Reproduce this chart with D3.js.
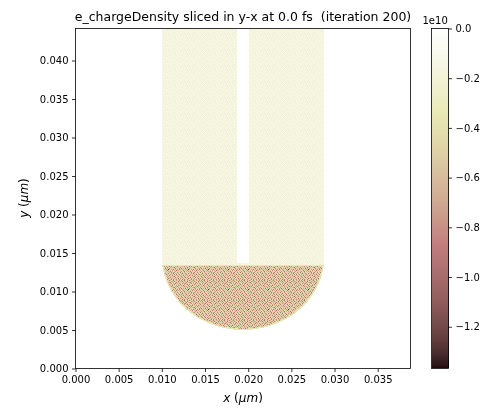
<!DOCTYPE html>
<html><head><meta charset="utf-8">
<script src="https://cdn.jsdelivr.net/npm/d3@7"></script>
<style>
html,body{margin:0;padding:0;background:#fff;overflow:hidden}
#wrap{position:relative;width:497px;height:410px}
canvas,svg{position:absolute;left:0;top:0}
text{font-family:"DejaVu Sans",sans-serif;fill:#000}
</style></head><body><div id="wrap"><canvas id="c" width="497" height="410"></canvas><svg id="s" width="497" height="410"></svg></div>
<script>
const chartTitle = "e_chargeDensity sliced in y-x at 0.0 fs  (iteration 200)";
const xDomain = [0, 0.0388];
const yDomain = [0, 0.04416];
const xTicks = [0, 0.005, 0.01, 0.015, 0.02, 0.025, 0.03, 0.035];
const yTicks = [0, 0.005, 0.01, 0.015, 0.02, 0.025, 0.03, 0.035, 0.04];
const colorDomain = [-1.368, 0];
const colorTicks = [0, -0.2, -0.4, -0.6, -0.8, -1.0, -1.2];
// Extents (micrometres).
const bunchXRange = [0.0100, 0.0288];
const slitXRange = [0.01875, 0.02015];
const slitBottom = 0.0137;
const interfaceY = 0.0135;
const discCentre = [0.0194, 0.0144];
const discRadius = 0.0094;
// Per-cell noise cannot be read one by one: these are estimated samples (hundredths of
// 1e10, magnitude) of the speckle seen in zoomed patches, repeated as a plain tile.
const lowerTile = [
[44,82,46,60,98,43,47,71,45,88,62,42,55,93,48,41,76,58,44,84],
[75,49,91,43,58,70,42,96,53,47,41,80,66,45,87,60,42,50,99,46],
[42,63,45,78,41,52,86,44,60,74,94,46,43,72,40,54,90,47,68,43],
[57,41,85,48,67,95,46,58,42,49,56,83,41,62,47,100,44,73,41,81],
[89,44,52,42,79,40,61,92,43,77,45,40,69,46,85,42,57,43,52,48],
[47,72,40,97,45,54,43,48,82,41,64,51,95,42,59,44,78,40,88,62],
[41,59,68,44,87,42,75,41,56,99,43,86,44,50,41,71,47,92,45,54],
[83,46,43,55,48,63,45,90,47,40,70,42,58,76,96,43,61,42,66,41],
[50,94,41,73,42,101,41,65,44,84,48,53,41,45,52,88,40,55,46,79],
[43,56,77,45,60,46,81,42,128,57,41,74,47,91,43,64,49,83,42,93],
[67,42,48,86,41,52,44,98,46,43,62,40,85,44,69,41,97,43,72,44],
[45,80,44,51,93,43,69,40,75,54,89,47,56,42,49,78,46,58,41,60],
[95,41,61,42,74,47,41,55,42,66,44,96,41,67,82,45,42,86,50,47],
[46,53,99,47,40,84,58,43,87,45,48,72,43,100,40,55,63,41,75,42],
[41,76,42,64,49,44,92,46,51,41,79,42,60,46,84,43,94,48,44,90],
[70,45,57,88,43,68,41,74,40,95,46,54,87,41,48,65,41,77,56,43],
[48,90,43,41,83,46,53,45,71,42,59,44,42,73,97,44,52,40,85,47],
[42,60,81,46,56,97,42,80,47,49,88,41,65,48,40,91,47,69,42,58],
[86,44,49,70,41,43,64,41,93,61,43,78,46,52,76,42,59,44,98,41],
[52,41,96,44,89,50,47,85,43,44,55,92,40,83,46,57,81,45,62,74]
];
const upperTile = [
[18,10,22,13,26,8,19,15,24,10,21,9,17,27,12,22,14,8,23,11],
[11,24,9,20,14,22,10,26,13,18,7,23,14,10,25,15,19,22,10,18],
[22,14,17,8,25,12,16,9,21,28,14,11,20,18,8,26,10,13,24,9],
[9,26,12,23,10,18,29,14,10,16,22,8,26,13,19,10,22,17,7,21],
[19,10,15,21,11,7,22,18,25,9,12,18,10,24,14,20,9,27,15,14],
[13,22,8,27,16,24,10,12,8,22,26,15,21,9,11,23,18,10,22,10],
[25,10,18,10,20,14,17,26,19,11,10,24,7,16,28,13,8,21,12,17],
[8,16,28,14,9,22,11,8,23,14,18,13,22,11,10,18,25,14,9,26],
[20,12,10,22,18,10,26,21,10,6,25,9,19,26,15,8,20,10,18,14],
[10,23,14,7,24,19,9,15,27,18,12,22,10,14,21,24,11,23,13,8],
[24,9,21,17,11,13,22,10,14,9,20,16,28,8,10,18,10,16,26,19],
[14,18,11,26,8,28,7,18,22,24,10,8,14,22,18,12,29,9,14,10],
[10,27,19,9,22,15,12,25,9,17,13,26,11,18,7,22,15,19,8,23],
[22,8,13,18,10,23,18,10,20,11,22,15,9,25,14,10,21,12,25,16],
[12,15,24,10,26,9,14,29,13,26,8,19,23,10,20,27,9,17,11,22],
[17,20,10,22,14,21,8,11,16,10,23,10,17,13,9,14,24,7,20,13]
];
const edgeValue = 36;
const tileUnit = -0.01;

const M = {l:75.5, r:410.5, t:28.5, b:368.5};
const x = d3.scaleLinear().domain(xDomain).range([M.l, M.r]);
const y = d3.scaleLinear().domain(yDomain).range([M.b, M.t]);

// matplotlib "pink_r" colormap
const clamp = v => Math.max(0, Math.min(1, v));
function pinkR(t){
  const u = 1 - t;
  const hr = clamp(0.0416 + 0.9584*u/0.365), hg = clamp((u-0.365)/0.381), hb = clamp((u-0.746)/0.254);
  const f = h => Math.round(255*Math.sqrt((2*u + h)/3));
  return `rgb(${f(hr)},${f(hg)},${f(hb)})`;
}
const color = d3.scaleSequential(t => pinkR(t)).domain([colorDomain[1], colorDomain[0]]);

// Image: one cell per device pixel, positions resolved through the axis scales.
const ctx = document.getElementById('c').getContext('2d');
ctx.fillStyle = '#fff'; ctx.fillRect(0,0,497,410);
const ex = x.invert(1) - x.invert(0), ey = y.invert(0) - y.invert(1);
function cellValue(cx, cy, i, j){
  if (cx < bunchXRange[0] || cx > bunchXRange[1]) return null;
  if (cy >= interfaceY){
    if (cx > slitXRange[0] && cx < slitXRange[1] && cy > slitBottom) return null;
    return upperTile[j % upperTile.length][i % upperTile[0].length];
  }
  const d = Math.hypot(cx-discCentre[0], cy-discCentre[1]);
  if (d > discRadius) return null;
  if (d > discRadius - 1.5*ex || cy > interfaceY - 1.5*ey) return edgeValue;
  return lowerTile[j % lowerTile.length][i % lowerTile[0].length];
}
for (let px=Math.ceil(M.l); px<M.r; px++){
  for (let py=Math.ceil(M.t); py<M.b; py++){
    const v = cellValue(x.invert(px+0.5), y.invert(py+0.5), px, py);
    if (v===null) continue;
    ctx.fillStyle = color(v*tileUnit);
    ctx.fillRect(px, py, 1, 1);
  }
}

const svg = d3.select('#s');
const fmt = d3.format('.3f');
const axX = svg.append('g').attr('transform',`translate(0,${M.b})`)
  .call(d3.axisBottom(x).tickValues(xTicks).tickFormat(fmt).tickSize(3.5).tickPadding(3.5));
const axY = svg.append('g').attr('transform',`translate(${M.l},0)`)
  .call(d3.axisLeft(y).tickValues(yTicks).tickFormat(fmt).tickSize(3.5).tickPadding(3.5));
[axX,axY].forEach(a=>{
  a.selectAll('text').style('font-size','10px').style('font-family','"DejaVu Sans",sans-serif');
  a.selectAll('.domain').remove();
  a.selectAll('line').attr('stroke','#000').attr('stroke-width',0.8);
});
svg.append('rect').attr('x',M.l).attr('y',M.t).attr('width',M.r-M.l).attr('height',M.b-M.t)
  .attr('fill','none').attr('stroke','#000').attr('stroke-width',0.8);

svg.append('text').attr('x',243).attr('y',21).attr('text-anchor','middle').style('font-size','12.5px')
  .attr('xml:space','preserve').style('white-space','pre').text(chartTitle);

const xl = svg.append('text').attr('x',243).attr('y',402).attr('text-anchor','middle').style('font-size','12px');
xl.append('tspan').style('font-style','italic').text('x');
xl.append('tspan').text(' (');
xl.append('tspan').style('font-style','italic').text('μm');
xl.append('tspan').text(')');
const yl = svg.append('text').attr('transform','translate(28,198) rotate(-90)').attr('text-anchor','middle').style('font-size','12px');
yl.append('tspan').style('font-style','italic').text('y');
yl.append('tspan').text(' (');
yl.append('tspan').style('font-style','italic').text('μm');
yl.append('tspan').text(')');

// Colorbar
const CB = {l:431.5, r:448.5};
const cy = d3.scaleLinear().domain(colorDomain).range([M.b, M.t]);
const levels = d3.range(0, 340).map(k => cy.invert(M.t + k));
svg.append('g').attr('shape-rendering','crispEdges').selectAll('rect').data(levels).join('rect')
  .attr('x',CB.l).attr('width',CB.r-CB.l)
  .attr('y',d=>cy(d)-0.5).attr('height',1)
  .attr('fill',d=>color(d));
svg.append('rect').attr('x',CB.l).attr('y',M.t).attr('width',CB.r-CB.l).attr('height',M.b-M.t)
  .attr('fill','none').attr('stroke','#000').attr('stroke-width',0.8);
const axC = svg.append('g').attr('transform',`translate(${CB.r},0)`)
  .call(d3.axisRight(cy).tickValues(colorTicks).tickFormat(d=>d3.format('.1f')(d).replace('-','\u2212')).tickSize(3.5).tickPadding(3.5));
axC.selectAll('text').style('font-size','10px').style('font-family','"DejaVu Sans",sans-serif');
axC.select('.domain').remove();
axC.selectAll('line').attr('stroke','#000').attr('stroke-width',0.8);
svg.append('text').attr('x',422.5).attr('y',24).style('font-size','10px').text('1e10');
</script></body></html>
